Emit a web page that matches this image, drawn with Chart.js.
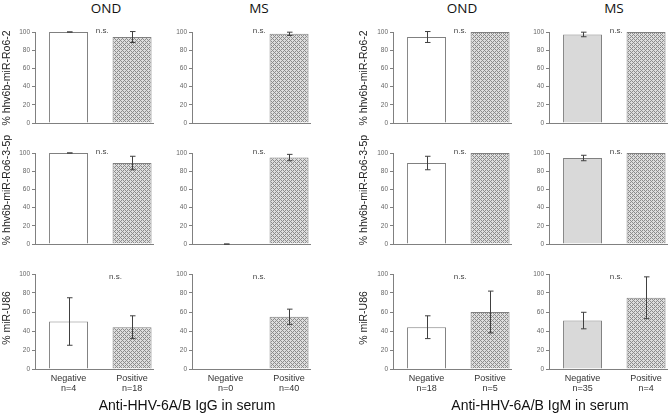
<!DOCTYPE html>
<html>
<head>
<meta charset="utf-8">
<script src="https://cdn.jsdelivr.net/npm/chart.js@4"></script>
<style>
  body { margin: 0; background: #fff; width: 669px; height: 414px; position: relative; overflow: hidden; font-family: "Liberation Sans", Arial, sans-serif; }
  canvas { position: absolute; }
  .lbl { position: absolute; transform: translate(-50%, -50%); white-space: nowrap; color: #111; }
  .ptitle { font-family: "Open Sans", "Noto Sans", sans-serif; font-size: 13.5px; }
  .xtitle { font-size: 14px; }
  .ytitle { font-size: 10.5px; line-height: 1; color: #222; transform: translate(-50%, -50%) rotate(-90deg); }
</style>
</head>
<body>
<script>
// panel columns / groups
const panelTitles = ['OND', 'MS', 'OND', 'MS'];
const groups = ['Negative', 'Positive'];
const negN = [4, 0, 18, 35];
const posN = [18, 40, 5, 4];
const rowLabels = ['% hhv6b-miR-Ro6-2', '% hhv6b-miR-Ro6-3-5p', '% miR-U86'];
const xTitles = ['Anti-HHV-6A/B IgG in serum', 'Anti-HHV-6A/B IgM in serum'];

// % values, one entry per column (OND IgG, MS IgG, OND IgM, MS IgM)
const ro62Neg = [100, 0, 94.5, 97.3];
const ro62NegErr = [0, 0, 6, 2.5];
const ro62Pos = [94.5, 98, 100, 100];
const ro62PosErr = [6, 1.8, 0, 0];

const ro635pNeg = [100, 0, 89, 94.5];
const ro635pNegErr = [0, 0, 7.4, 3];
const ro635pPos = [89, 95, 100, 100];
const ro635pPosErr = [7.4, 3.5, 0, 0];

const u86Neg = [50, 0, 44, 51];
const u86NegErr = [25, 0, 12, 8.7];
const u86Pos = [44, 55, 60, 75];
const u86PosErr = [12, 8, 22, 22];

const rows = [
  { neg: ro62Neg, negErr: ro62NegErr, pos: ro62Pos, posErr: ro62PosErr },
  { neg: ro635pNeg, negErr: ro635pNegErr, pos: ro635pPos, posErr: ro635pPosErr },
  { neg: u86Neg, negErr: u86NegErr, pos: u86Pos, posErr: u86PosErr }
];

// layout
const axisX = [35, 192, 393, 549];
const yWidth = [35, 30, 35, 30];
const rowTop = [31.5, 152.5, 274];
const padTop = 8;
const plotH = 95;
const plotW = 118;
const gray = '#808080';

function hatch() {
  const c = document.createElement('canvas');
  c.width = 4; c.height = 4;
  const g = c.getContext('2d');
  g.fillStyle = '#dedede';
  g.fillRect(0, 0, 4, 4);
  g.fillStyle = '#8c8c8c';
  for (let x = 0; x < 4; x++) {
    for (let y = 0; y < 4; y++) {
      if ((x + y) % 4 === 0 || (x - y + 4) % 4 === 0) g.fillRect(x, y, 1, 1);
    }
  }
  return g.createPattern(c, 'repeat');
}

const errorBars = {
  id: 'errorBars',
  afterDatasetsDraw(chart, args, opts) {
    const ctx = chart.ctx;
    const yScale = chart.scales.y;
    const meta = chart.getDatasetMeta(0);
    ctx.save();
    ctx.strokeStyle = '#404040';
    ctx.lineWidth = 1;
    meta.data.forEach((bar, i) => {
      const v = chart.data.datasets[0].data[i].y;
      const e = opts.errs[i];
      if (v === 0 && i === 0 && opts.hideZero) return;
      if (v === 100 && e === 0 && i === 1) return;
      const x = Math.round(bar.x) + 0.5;
      const top = yScale.getPixelForValue(v + e);
      const bot = yScale.getPixelForValue(v - e);
      ctx.beginPath();
      ctx.moveTo(x, top); ctx.lineTo(x, bot);
      ctx.moveTo(x - 2.5, top); ctx.lineTo(x + 3, top);
      ctx.moveTo(x - 2.5, bot); ctx.lineTo(x + 3, bot);
      ctx.stroke();
    });
    ctx.restore();
  }
};

const nsLabel = {
  id: 'nsLabel',
  afterDraw(chart, args, opts) {
    const ctx = chart.ctx;
    ctx.save();
    ctx.fillStyle = '#444';
    ctx.font = '8px "Liberation Sans", Arial, sans-serif';
    ctx.textAlign = 'center';
    ctx.textBaseline = 'middle';
    ctx.fillText('n.s.', chart.scales.x.getPixelForValue(opts.x), chart.scales.y.getPixelForValue(opts.y));
    ctx.restore();
  }
};

function makePanel(r, c) {
  const last = r === 2;
  const xH = last ? 30 : 2;
  const canvas = document.createElement('canvas');
  const left = axisX[c] - yWidth[c];
  canvas.width = yWidth[c] + plotW + 2;
  canvas.height = padTop + plotH + xH;
  canvas.style.left = left + 'px';
  canvas.style.top = (rowTop[r] - padTop) + 'px';
  document.body.appendChild(canvas);

  const d = rows[r];
  const n = [negN[c], posN[c]];
  const negFill = c === 3 ? '#d9d9d9' : '#ffffff';

  new Chart(canvas.getContext('2d'), {
    type: 'bar',
    data: {
      datasets: [{
        data: [{ x: 1, y: d.neg[c] }, { x: 2, y: d.pos[c] }],
        backgroundColor: [negFill, hatch()],
        borderColor: gray,
        borderWidth: 1,
        barPercentage: 0.614,
        categoryPercentage: 1
      }]
    },
    options: {
      responsive: false,
      animation: false,
      devicePixelRatio: 1,
      layout: { padding: { top: padTop, right: 2, left: 0, bottom: 0 } },
      plugins: {
        legend: { display: false },
        tooltip: { enabled: false },
        errorBars: { errs: [d.negErr[c], d.posErr[c]], hideZero: r !== 1 },
        nsLabel: { x: (r === 2 && c === 0) ? 1.74 : 1.53, y: r === 2 ? 97.5 : 101.8 }
      },
      scales: {
        x: {
          type: 'linear',
          offset: false,
          min: 0.472,
          max: 2.33,
          grid: { display: false, drawTicks: false },
          border: { display: true, color: gray },
          afterBuildTicks: s => { s.ticks = [{ value: 1 }, { value: 2 }]; },
          afterFit: s => { s.height = xH; },
          ticks: {
            display: last,
            autoSkip: false,
            maxRotation: 0,
            padding: 5,
            color: '#333',
            font: { size: 9, family: '"Liberation Sans", Arial, sans-serif', lineHeight: 1.05 },
            callback: (v, i) => [groups[i], 'n=' + n[i]]
          }
        },
        y: {
          min: 0,
          max: 100,
          afterFit: s => { s.width = yWidth[c]; },
          grid: { display: true, drawOnChartArea: false, drawTicks: true, tickLength: 3, color: gray },
          border: { display: true, color: gray },
          ticks: {
            stepSize: 20,
            padding: 2,
            color: '#666',
            font: { size: 6.5, family: '"Liberation Sans", Arial, sans-serif' }
          }
        }
      }
    },
    plugins: [errorBars, nsLabel]
  });
}

for (let r = 0; r < 3; r++) {
  for (let c = 0; c < 4; c++) makePanel(r, c);
}

function addLabel(text, x, y, cls) {
  const el = document.createElement('div');
  el.className = 'lbl ' + cls;
  el.textContent = text;
  el.style.left = x + 'px';
  el.style.top = y + 'px';
  document.body.appendChild(el);
}

const titleX = [106, 259, 462, 614];
panelTitles.forEach((t, i) => addLabel(t, titleX[i], 8, 'ptitle'));
addLabel(xTitles[0], 187, 405, 'xtitle');
addLabel(xTitles[1], 540, 405, 'xtitle');

// y axis titles on the OND panels
const yTitleX = [5.5, 363];
const yTitleY = [78, 190, 318];
rowLabels.forEach((t, r) => yTitleX.forEach(x => addLabel(t, x, yTitleY[r], 'ytitle')));
</script>
</body>
</html>
